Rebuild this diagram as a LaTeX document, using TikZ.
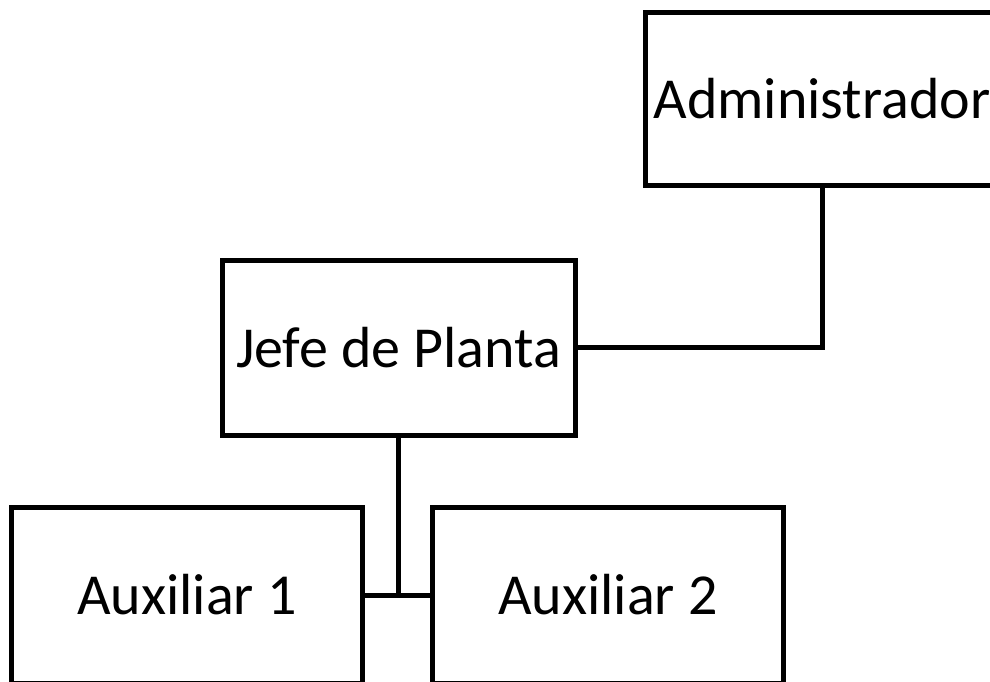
\documentclass[tikz,border=0pt]{standalone}
\usepackage{fontspec}
\setmainfont{Carlito}
\begin{document}
\begin{tikzpicture}[x=1pt,y=-1pt,
  box/.style={draw=black, line width=5pt, fill=white, inner sep=0pt, minimum width=351pt, minimum height=173pt, font=\fontsize{58}{62}\selectfont},
  conn/.style={draw=black, line width=5pt}]
\useasboundingbox (0,0) rectangle (990,681);
\clip (0,0) rectangle (990,681);
\node[box, minimum width=354pt] (adm) at (822,98.5) {Administrador};
\node[box, minimum width=353pt, minimum height=175pt] (jefe) at (398.5,347.5) {Jefe de Planta};
\node[box, minimum height=176pt] (aux1) at (187,595) {Auxiliar 1};
\node[box, minimum height=176pt] (aux2) at (608,595) {Auxiliar 2};
\draw[conn] (adm.south) -- (adm.south |- jefe.east) -- (jefe.east);
\draw[conn] (jefe.south) -- (jefe.south |- aux1.east);
\draw[conn] (aux1.east) -- (aux2.west);
\end{tikzpicture}
\end{document}
